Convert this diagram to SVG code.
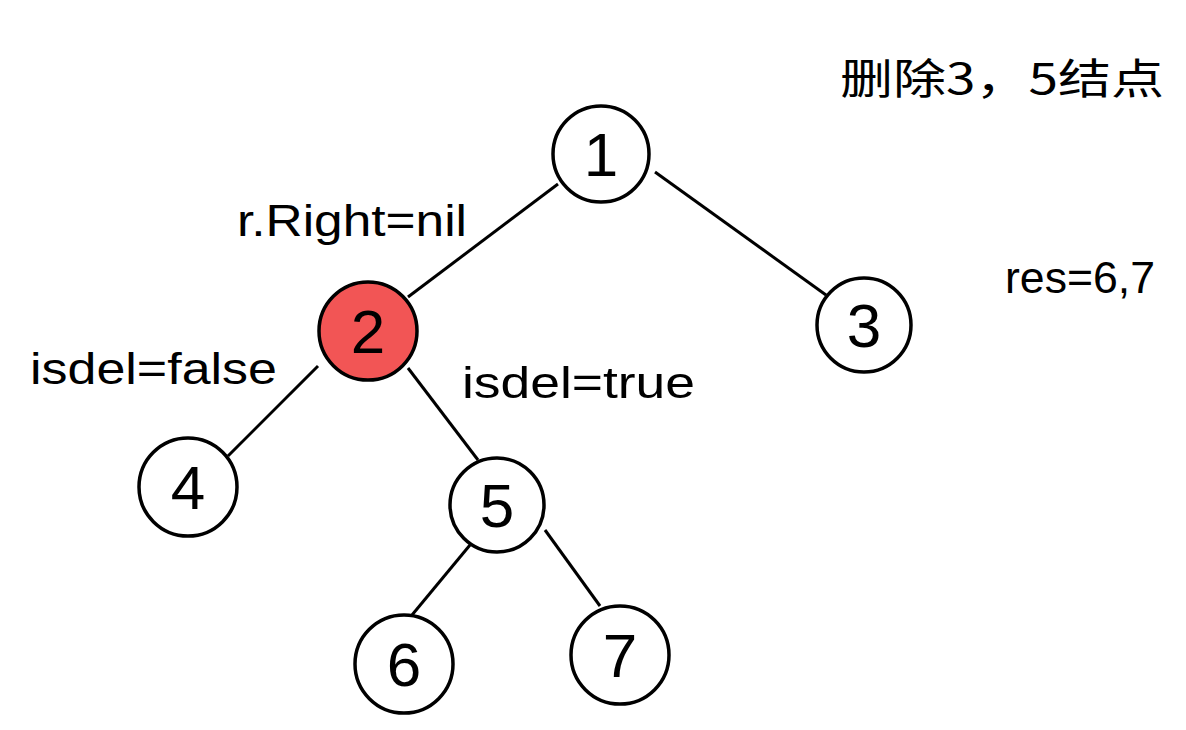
<svg xmlns="http://www.w3.org/2000/svg" width="1186" height="730" viewBox="0 0 1186 730">
<style>
.n{fill:#fff;stroke:#000;stroke-width:3.5}
.red{fill:#f25555}
.d{font-family:"Liberation Sans",Arial,sans-serif;font-size:62px;text-anchor:middle;fill:#000}
.l{font-family:"Liberation Sans",Arial,sans-serif;font-size:44px;fill:#000}
.c{font-family:"Noto Sans CJK SC",sans-serif;font-size:42px;fill:#000}
.e{stroke:#000;stroke-width:3;fill:none}
</style>
<rect width="1186" height="730" fill="#fff"/>
<g id="connectors">
<line class="e" x1="558" y1="184" x2="408" y2="297"/>
<line class="e" x1="655" y1="172" x2="826" y2="295"/>
<line class="e" x1="318" y1="366" x2="228" y2="456"/>
<line class="e" x1="408" y1="368" x2="478" y2="460"/>
<line class="e" x1="470" y1="545" x2="412" y2="615"/>
<line class="e" x1="545" y1="530" x2="600" y2="606"/>
</g>
<g id="node1"><circle class="n" cx="601" cy="154" r="48"/><text class="d" x="601" y="176">1</text></g>
<g id="node2"><circle class="n red" cx="368" cy="331" r="49"/><text class="d" x="368" y="353">2</text></g>
<g id="node3"><circle class="n" cx="864" cy="325" r="47"/><text class="d" x="864" y="347">3</text></g>
<g id="node4"><circle class="n" cx="188" cy="487" r="49"/><text class="d" x="188" y="509">4</text></g>
<g id="node5"><circle class="n" cx="497" cy="505" r="47"/><text class="d" x="497" y="527">5</text></g>
<g id="node6"><circle class="n" cx="404" cy="664" r="49"/><text class="d" x="404" y="686">6</text></g>
<g id="node7"><circle class="n" cx="620" cy="655" r="49"/><text class="d" x="620" y="677">7</text></g>
<g id="labels">
<text class="l" x="237" y="236" textLength="230" lengthAdjust="spacingAndGlyphs">r.Right=nil</text>
<text class="l" x="30" y="384" textLength="247" lengthAdjust="spacingAndGlyphs">isdel=false</text>
<text class="l" x="462" y="398" textLength="233" lengthAdjust="spacingAndGlyphs">isdel=true</text>
<text class="l" x="1005" y="293" textLength="150" lengthAdjust="spacingAndGlyphs">res=6,7</text>
<text class="c" x="840" y="94" textLength="324" lengthAdjust="spacingAndGlyphs">删除3，5结点</text>
</g>
</svg>
